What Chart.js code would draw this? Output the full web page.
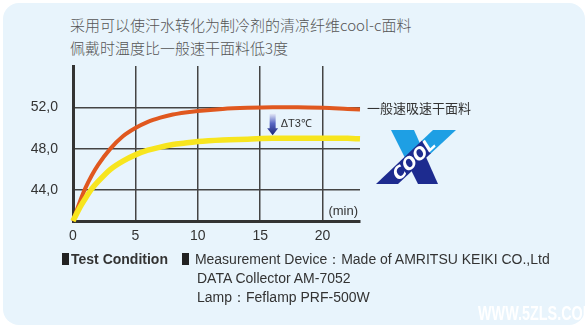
<!DOCTYPE html>
<html>
<head>
<meta charset="utf-8">
<script src="https://cdn.jsdelivr.net/npm/chart.js"></script>
<style>
  body { margin: 0; background: #fff; width: 587px; height: 330px; overflow: hidden; }
  #panel { position: absolute; left: 3px; top: 3px; width: 582px; height: 322px; background: #e8f4fc; border-radius: 16px; }
  #chart { position: absolute; left: 0; top: 0; }
  .title { position: absolute; left: 70px; font-family: "Noto Sans CJK SC", sans-serif; font-size: 15px; color: #555; font-weight: 300; white-space: nowrap; }
  .cond { position: absolute; font-family: "Liberation Sans", Arial, sans-serif; font-size: 14px; color: #333; white-space: nowrap; }
  .sq { display: inline-block; width: 7px; height: 12px; background: #222; margin-right: 2px; vertical-align: -1px; }
  #wm { position: absolute; left: 478px; top: 302px; font-family: "Liberation Sans", sans-serif; font-weight: bold; font-size: 20px; color: #fff; transform: scale(0.72, 1); transform-origin: left top; white-space: nowrap; }
</style>
</head>
<body>
<div id="panel"></div>
<div class="title" style="top:14px">采用可以使汗水转化为制冷剂的清凉纤维cool-c面料</div>
<div class="title" style="top:37px">佩戴时温度比一般速干面料低3度</div>
<canvas id="chart" width="587" height="330"></canvas>
<div class="cond" style="left:62px;top:251px;font-weight:bold"><span class="sq"></span>Test Condition</div>
<div class="cond" style="left:182px;top:251px"><span class="sq"></span> Measurement Device：Made of AMRITSU KEIKI CO.,Ltd</div>
<div class="cond" style="left:197px;top:270px">DATA Collector AM-7052</div>
<div class="cond" style="left:197px;top:289px">Lamp：Feflamp PRF-500W</div>
<div id="wm">WWW.5ZLS.COM</div>
<script>
// minutes
const times = [0, 0.5, 1, 1.5, 2, 3, 4, 5, 6, 7, 8, 9, 10, 12, 14, 16, 18, 20, 22, 23];
// ordinary quick-dry fabric (orange)
const normalTemp = [41.0, 42.7, 44.2, 45.4, 46.4, 48.0, 49.2, 50.0, 50.6, 51.0, 51.3, 51.5, 51.65, 51.85, 51.95, 52.0, 52.0, 51.95, 51.85, 51.8];
// cool-c fabric (yellow)
const coolTemp = [41.0, 42.2, 43.2, 44.1, 44.8, 46.0, 46.8, 47.4, 47.85, 48.15, 48.4, 48.55, 48.7, 48.85, 48.92, 49.0, 49.0, 49.0, 49.0, 48.95];
const xTicks = [0, 5, 10, 15, 20];
const yTicks = [44, 48, 52];
const normalLabel = '一般速吸速干面料';
const deltaLabel = 'ΔT3℃';
const unitLabel = '(min)';

const toPoints = vals => vals.map((v, i) => ({ x: times[i], y: v }));

// labels, arrow and the COOL X logo
const decoPlugin = {
    id: 'deco',
    afterDatasetsDraw(chart) {
        const ctx = chart.ctx;
        const xs = chart.scales.x, ys = chart.scales.y;
        const area = chart.chartArea;
        ctx.save();
        // (min)
        ctx.font = '13px "Liberation Sans", Arial, sans-serif';
        ctx.fillStyle = '#333';
        ctx.textAlign = 'right';
        ctx.textBaseline = 'middle';
        ctx.fillText(unitLabel, area.right - 2, area.bottom - 10);
        // series label
        ctx.textAlign = 'left';
        ctx.fillStyle = '#333';
        ctx.font = '13px "Noto Sans CJK SC", sans-serif';
        ctx.fillText(normalLabel, area.right + 7, ys.getPixelForValue(normalTemp[normalTemp.length - 1]) - 1);
        // delta arrow
        const ax = xs.getPixelForValue(16);
        const top = ys.getPixelForValue(51.4), bot = ys.getPixelForValue(49.3);
        const g = ctx.createLinearGradient(0, top, 0, bot);
        g.addColorStop(0, '#e6ebf8');
        g.addColorStop(0.45, '#5a68c4');
        g.addColorStop(1, '#1a2478');
        ctx.fillStyle = g;
        ctx.beginPath();
        ctx.moveTo(ax - 3, top);
        ctx.lineTo(ax + 3, top);
        ctx.lineTo(ax + 3, bot - 7);
        ctx.lineTo(ax + 5.5, bot - 7);
        ctx.lineTo(ax, bot);
        ctx.lineTo(ax - 5.5, bot - 7);
        ctx.lineTo(ax - 3, bot - 7);
        ctx.closePath();
        ctx.fill();
        ctx.fillStyle = '#333';
        ctx.font = '11px "Liberation Sans", Arial, sans-serif';
        ctx.fillText(deltaLabel, ax + 8, (top + bot) / 2);
        // COOL X logo
        const light = '#1e9fe4', navy = '#1d2b8f';
        let lg = ctx.createLinearGradient(0, 130, 0, 184);
        lg.addColorStop(0, light); lg.addColorStop(0.5, light);
        lg.addColorStop(0.5, navy); lg.addColorStop(1, navy);
        ctx.fillStyle = lg;
        ctx.beginPath();
        ctx.moveTo(391, 130); ctx.lineTo(414, 130); ctx.lineTo(438, 184); ctx.lineTo(418, 184);
        ctx.closePath(); ctx.fill();
        lg = ctx.createLinearGradient(456, 130, 376, 184);
        lg.addColorStop(0, light); lg.addColorStop(0.35, light);
        lg.addColorStop(0.35, navy); lg.addColorStop(1, navy);
        ctx.fillStyle = lg;
        ctx.beginPath();
        ctx.moveTo(433, 130); ctx.lineTo(456, 130); ctx.lineTo(398, 184); ctx.lineTo(376, 184);
        ctx.closePath(); ctx.fill();
        ctx.translate(415, 160);
        ctx.rotate(-0.76);
        ctx.fillStyle = '#fff';
        ctx.font = 'italic bold 17px "DejaVu Sans", sans-serif';
        ctx.textAlign = 'center';
        ctx.fillText('COOL', 0, 0);
        ctx.restore();
    }
};

new Chart(document.getElementById('chart'), {
    type: 'line',
    data: {
        datasets: [{
            label: 'cool-c',
            data: toPoints(coolTemp),
            borderColor: '#f7e51e',
            borderWidth: 5.5,
            cubicInterpolationMode: 'monotone',
            pointRadius: 0,
            fill: false
        }, {
            label: normalLabel,
            data: toPoints(normalTemp),
            borderColor: '#e0581f',
            borderWidth: 4,
            cubicInterpolationMode: 'monotone',
            pointRadius: 0,
            fill: false
        }]
    },
    options: {
        responsive: false,
        animation: false,
        devicePixelRatio: 1,
        clip: false,
        layout: { padding: { top: 66, right: 227, left: 0, bottom: 0 } },
        plugins: { legend: { display: false }, tooltip: { enabled: false } },
        scales: {
            x: {
                type: 'linear',
                min: 0,
                max: 23,
                afterBuildTicks: s => { s.ticks = xTicks.map(v => ({ value: v })); },
                afterFit: s => { s.height = 109; },
                grid: { color: '#444', lineWidth: 1.5, drawTicks: false },
                border: { color: '#333', width: 3 },
                ticks: { padding: 7, color: '#333', font: { size: 14, family: '"Liberation Sans", Arial, sans-serif' } }
            },
            y: {
                min: 41,
                max: 56,
                afterBuildTicks: s => { s.ticks = yTicks.map(v => ({ value: v })); },
                afterFit: s => { s.width = 73; },
                grid: { color: '#444', lineWidth: 1.5, drawTicks: false },
                border: { color: '#333', width: 3 },
                ticks: {
                    padding: 15,
                    color: '#333',
                    font: { size: 14, family: '"Liberation Sans", Arial, sans-serif' },
                    callback: v => v.toFixed(1).replace('.', ',')
                }
            }
        }
    },
    plugins: [decoPlugin]
});
</script>
</body>
</html>
